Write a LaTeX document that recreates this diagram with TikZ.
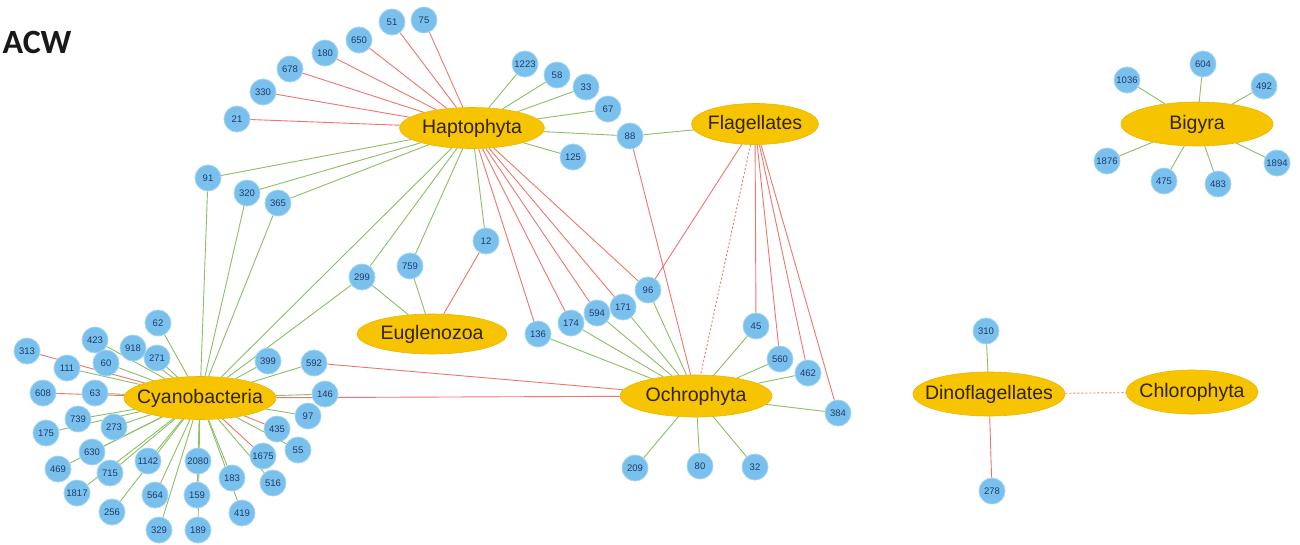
\documentclass[tikz,border=0pt]{standalone}
\usepackage{fontspec}
\setmainfont{Liberation Sans}
\newfontfamily\acwfont{Carlito}
\usetikzlibrary{shapes.geometric,backgrounds}
\definecolor{gold}{RGB}{246,196,0}
\definecolor{goldline}{RGB}{236,182,0}
\definecolor{leafc}{RGB}{122,192,236}
\definecolor{leafline}{RGB}{160,212,245}
\definecolor{redc}{RGB}{238,118,108}
\definecolor{greenc}{RGB}{140,192,100}
\definecolor{leaftext}{RGB}{30,60,110}
\definecolor{hubtext}{RGB}{50,35,0}
\newcommand{\hubtxt}[1]{\makebox[0pt]{#1}}
\begin{document}
\begin{tikzpicture}[x=1pt,y=-1pt,
 hub/.style={ellipse, fill=gold, draw=goldline, line width=0.6pt, inner sep=0pt, text=hubtext, font=\fontsize{19.5}{19.5}\selectfont},
 leaf/.style={circle, fill=leafc, draw=leafline, line width=0.8pt, minimum size=26pt, inner sep=0pt, text=leaftext, font=\fontsize{9.5}{9.5}\selectfont},
 rl/.style={draw=redc, line width=0.9pt},
 gl/.style={draw=greenc, line width=0.9pt},
 rd/.style={draw=redc, line width=0.9pt, dash pattern=on 2pt off 2pt}]
\useasboundingbox (0,0) rectangle (1300,544);

\node[anchor=west, font=\acwfont\bfseries\fontsize{34}{34}\selectfont, text=black!90] (acw) at (-1,42) {ACW};

% hubs
\node[hub, minimum width=145pt, minimum height=41pt] (hap) at (472,128) {\hubtxt{Haptophyta}};
\node[hub, minimum width=127pt, minimum height=41pt] (fla) at (755,124) {\hubtxt{Flagellates}};
\node[hub, minimum width=150pt, minimum height=40pt] (eug) at (432,334) {\hubtxt{Euglenozoa}};
\node[hub, minimum width=152pt, minimum height=43pt] (cya) at (200,398) {\hubtxt{Cyanobacteria}};
\node[hub, minimum width=152pt, minimum height=42pt] (och) at (696,396) {\hubtxt{Ochrophyta}};
\node[hub, minimum width=152pt, minimum height=44pt] (big) at (1197,124) {\hubtxt{Bigyra}};
\node[hub, minimum width=152pt, minimum height=44pt] (din) at (989,394) {\hubtxt{Dinoflagellates}};
\node[hub, minimum width=132pt, minimum height=44pt] (chl) at (1192,392) {\hubtxt{Chlorophyta}};

% Haptophyta leaves
\node[leaf] (n21) at (237,119) {21};
\node[leaf] (n330) at (263,92) {330};
\node[leaf] (n678) at (290,69) {678};
\node[leaf] (n180) at (325,53) {180};
\node[leaf] (n650) at (359,40) {650};
\node[leaf] (n51) at (392,22) {51};
\node[leaf] (n75) at (424,20) {75};
\node[leaf] (n1223) at (525,64) {1223};
\node[leaf] (n58) at (557,75) {58};
\node[leaf] (n33) at (586,87) {33};
\node[leaf] (n67) at (608,109) {67};
\node[leaf] (n88) at (630,136) {88};
\node[leaf] (n125) at (573,157) {125};
\node[leaf] (n91) at (208,178) {91};
\node[leaf] (n320) at (247,193) {320};
\node[leaf] (n365) at (278,203) {365};
\node[leaf] (n299) at (362,277) {299};
\node[leaf] (n759) at (410,266) {759};
\node[leaf] (n12) at (486,241) {12};
\node[leaf] (n136) at (538,334) {136};
\node[leaf] (n174) at (571,323) {174};
\node[leaf] (n594) at (597,313) {594};
\node[leaf] (n171) at (623,307) {171};
\node[leaf] (n96) at (648,290) {96};

% Ochrophyta leaves
\node[leaf] (n45) at (756,326) {45};
\node[leaf] (n560) at (780,359) {560};
\node[leaf] (n462) at (808,373) {462};
\node[leaf] (n384) at (838,413) {384};
\node[leaf] (n209) at (635,468) {209};
\node[leaf] (n80) at (700,466) {80};
\node[leaf] (n32) at (755,467) {32};

% Cyanobacteria leaves
\node[leaf] (n313) at (27,351) {313};
\node[leaf] (n423) at (95,340) {423};
\node[leaf] (n918) at (133,348) {918};
\node[leaf] (n62) at (158,323) {62};
\node[leaf] (n111) at (67,368) {111};
\node[leaf] (n60) at (106,363) {60};
\node[leaf] (n271) at (157,358) {271};
\node[leaf] (n608) at (43,393) {608};
\node[leaf] (n63) at (95,393) {63};
\node[leaf] (n739) at (78,419) {739};
\node[leaf] (n175) at (46,433) {175};
\node[leaf] (n273) at (114,427) {273};
\node[leaf] (n630) at (92,452) {630};
\node[leaf] (n469) at (58,469) {469};
\node[leaf] (n715) at (110,473) {715};
\node[leaf] (n1142) at (148,461) {1142};
\node[leaf] (n2080) at (198,461) {2080};
\node[leaf] (n1817) at (77,493) {1817};
\node[leaf] (n564) at (155,495) {564};
\node[leaf] (n159) at (197,495) {159};
\node[leaf] (n183) at (232,478) {183};
\node[leaf] (n256) at (112,512) {256};
\node[leaf] (n419) at (242,513) {419};
\node[leaf] (n329) at (159,530) {329};
\node[leaf] (n189) at (198,530) {189};
\node[leaf] (n1675) at (263,456) {1675};
\node[leaf] (n516) at (273,483) {516};
\node[leaf] (n435) at (277,429) {435};
\node[leaf] (n55) at (298,450) {55};
\node[leaf] (n97) at (308,416) {97};
\node[leaf] (n146) at (325,394) {146};
\node[leaf] (n592) at (314,363) {592};
\node[leaf] (n399) at (268,361) {399};

% Bigyra leaves
\node[leaf] (n1036) at (1127,80) {1036};
\node[leaf] (n604) at (1203,64) {604};
\node[leaf] (n492) at (1264,86) {492};
\node[leaf] (n1876) at (1107,161) {1876};
\node[leaf] (n475) at (1164,181) {475};
\node[leaf] (n483) at (1218,184) {483};
\node[leaf] (n1894) at (1277,163) {1894};

% Dinoflagellates leaves
\node[leaf] (n310) at (986,331) {310};
\node[leaf] (n278) at (992,491) {278};

\begin{scope}[on background layer]
\fill[white] (0,0) rectangle (1300,544);
% Haptophyta
\foreach \n in {21,330,678,180,650,51,75,136,174,594,171,96}
  \draw[rl] (hap) -- (n\n);
\foreach \n in {1223,58,33,67,88,125,91,320,365,299,759,12}
  \draw[gl] (hap) -- (n\n);
\draw[gl] (hap) -- (cya);
% Flagellates
\draw[gl] (fla) -- (n88);
\foreach \n in {96,45,560,462,384}
  \draw[rl] (fla) -- (n\n);
\draw[rd] (fla) -- (och);
% Euglenozoa
\draw[gl] (eug) -- (n299);
\draw[gl] (eug) -- (n759);
\draw[rl] (eug) -- (n12);
% Ochrophyta
\foreach \n in {45,560,462,384,209,80,32,136,174,594,171,96}
  \draw[gl] (och) -- (n\n);
\draw[rl] (och) -- (n88);
\draw[rl] (och) -- (n592);
\draw[rl] (och) -- (cya);
% Cyanobacteria
\foreach \n in {91,320,365,299,399,592,146,97,55,516,183,419,2080,159,189,1142,564,329,256,715,1817,630,469,273,175,739,63,111,60,423,918,271,62}
  \draw[gl] (cya) -- (n\n);
\foreach \n in {313,608,435,1675}
  \draw[rl] (cya) -- (n\n);
% Bigyra
\foreach \n in {1036,604,492,1876,475,483,1894}
  \draw[gl] (big) -- (n\n);
% Dinoflagellates
\draw[gl] (din) -- (n310);
\draw[rl] (din) -- (n278);
\draw[rd] (din) -- (chl);
\end{scope}
\end{tikzpicture}
\end{document}
